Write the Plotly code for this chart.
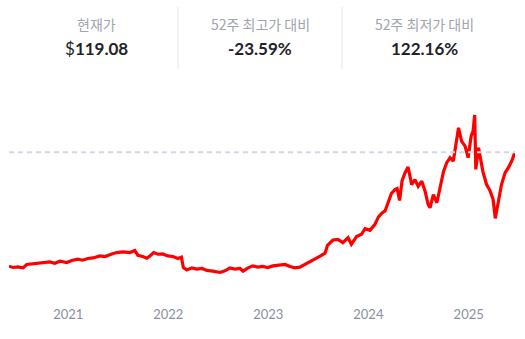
import plotly.graph_objects as go

# ---- data ----
dates = [
    "2020-05-30", "2020-06-13", "2020-07-01", "2020-07-20", "2020-08-03", "2020-08-25",
    "2020-09-20", "2020-10-08", "2020-10-26", "2020-11-13", "2020-12-02", "2020-12-27",
    "2021-01-14", "2021-02-05", "2021-02-23", "2021-03-14", "2021-04-01", "2021-04-27",
    "2021-05-15", "2021-06-09", "2021-06-27", "2021-07-20", "2021-08-14", "2021-09-01",
    "2021-09-12", "2021-09-30", "2021-10-15", "2021-10-26", "2021-11-09", "2021-11-24",
    "2021-12-12", "2021-12-30", "2022-01-18", "2022-02-05", "2022-02-18", "2022-02-25",
    "2022-03-10", "2022-03-28", "2022-04-16", "2022-05-04", "2022-05-22", "2022-06-13",
    "2022-07-09", "2022-07-27", "2022-08-14", "2022-09-01", "2022-09-20", "2022-10-01",
    "2022-10-19", "2022-11-06", "2022-11-24", "2022-12-12", "2022-12-30", "2023-01-18",
    "2023-02-12", "2023-03-03", "2023-03-21", "2023-04-08", "2023-04-26", "2023-05-15",
    "2023-06-02", "2023-06-20", "2023-07-09", "2023-07-27", "2023-08-05", "2023-08-25",
    "2023-09-12", "2023-09-30", "2023-10-19", "2023-10-31", "2023-11-19", "2023-12-07",
    "2023-12-20", "2024-01-07", "2024-01-25", "2024-02-07", "2024-02-20", "2024-03-02",
    "2024-03-13", "2024-03-25", "2024-04-07", "2024-04-15", "2024-04-24", "2024-05-03",
    "2024-05-14", "2024-05-25", "2024-06-07", "2024-06-19", "2024-07-01", "2024-07-14",
    "2024-07-26", "2024-08-06", "2024-08-13", "2024-08-25", "2024-09-07", "2024-09-19",
    "2024-10-01", "2024-10-13", "2024-10-25", "2024-11-06", "2024-11-18", "2024-11-25",
    "2024-12-06", "2024-12-19", "2024-12-30", "2025-01-10", "2025-01-17", "2025-01-23",
    "2025-01-27", "2025-02-06", "2025-02-22", "2025-03-07", "2025-03-20", "2025-03-31",
    "2025-04-08", "2025-04-18", "2025-05-01", "2025-05-14", "2025-05-26", "2025-06-07",
    "2025-06-19",
]
prices = [
    6.43, 5.15, 5.74, 4.76, 8.10, 8.69,
    9.38, 10.07, 10.66, 9.38, 11.34, 10.07,
    12.03, 13.31, 12.33, 14.00, 14.59, 16.55,
    15.96, 18.52, 19.90, 20.49, 19.90, 21.86,
    17.24, 15.96, 14.29, 16.55, 19.90, 18.22,
    18.52, 16.55, 15.96, 14.00, 15.28, 5.15,
    2.79, 4.76, 3.48, 4.17, 2.20, 1.51,
    0.23, 1.81, 4.76, 3.48, 4.17, 1.51,
    4.76, 6.72, 5.45, 6.13, 5.15, 6.72,
    7.41, 8.10, 6.13, 4.76, 5.45, 8.10,
    11.34, 14.00, 16.26, 19.21, 27.07, 32.28,
    32.97, 29.73, 34.64, 28.06, 35.63, 37.90,
    43.49, 41.82, 47.72, 55.09, 59.02, 60.98,
    68.36, 78.19, 82.12, 83.10, 71.31, 90.97,
    98.83, 104.44, 87.03, 91.95, 85.36, 90.28,
    80.45, 67.38, 64.13, 77.20, 69.05, 83.79,
    99.81, 108.66, 113.58, 110.33, 129.99, 143.07,
    129.99, 125.08, 113.58, 134.91, 139.82, 155.84,
    102.07, 123.41, 99.81, 87.33, 80.84, 72.58,
    53.60, 67.67, 87.33, 98.83, 103.75, 110.33,
    119.08,
]

year_ticks = ["2021-01-01", "2022-01-01", "2023-01-01", "2024-01-01", "2025-01-01"]
year_labels = ["2021", "2022", "2023", "2024", "2025"]

stat_labels = ["현재가", "52주 최고가 대비", "52주 최저가 대비"]
stat_values = ["$<b>119.08</b>", "<b>-23.59%</b>", "<b>122.16%</b>"]
current_price = 119.08

# ---- layout geometry (pixels) ----
W, H = 525, 339
L, R, T, B = 9, 10, 100, 36
pw, ph = W - L - R, H - T - B


def px(x):
    return (x - L) / pw


def py(y):
    return (H - B - y) / ph


fig = go.Figure()
fig.add_trace(go.Scatter(
    x=dates, y=prices, mode="lines",
    line=dict(color="#ff0000", width=3.2),
    hoverinfo="skip", showlegend=False,
))

fig.add_shape(type="line", xref="x", yref="y",
              x0=dates[0], x1=dates[-1], y0=current_price, y1=current_price,
              line=dict(color="#d3d6e4", width=2, dash="5px,4px"), layer="above")

col_centers = [96, 260, 424]
for cx, lab, val in zip(col_centers, stat_labels, stat_values):
    fig.add_annotation(x=px(cx), y=py(24), xref="paper", yref="paper",
                       text=lab, showarrow=False, xanchor="center", yanchor="middle",
                       font=dict(family="Noto Sans CJK KR", size=14, color="#a0a4ae"))
    fig.add_annotation(x=px(cx), y=py(49), xref="paper", yref="paper",
                       text=val, showarrow=False, xanchor="center", yanchor="middle",
                       font=dict(family="Lato", size=17, color="#1f2329"))

for sx in [178, 342]:
    fig.add_shape(type="line", xref="paper", yref="paper",
                  x0=px(sx), x1=px(sx), y0=py(7), y1=py(69),
                  line=dict(color="#e3e5ea", width=1))

fig.update_layout(
    width=W, height=H,
    margin=dict(l=L, r=R, t=T, b=B),
    paper_bgcolor="white", plot_bgcolor="white",
    xaxis=dict(type="date", range=[dates[0], dates[-1]],
               tickvals=year_ticks, ticktext=year_labels,
               showgrid=False, zeroline=False, showline=False, ticks="",
               ticklabelstandoff=2,
               tickfont=dict(family="Lato", size=13, color="#8a8fa3")),
    yaxis=dict(range=[-29.94, 170.59], visible=False, fixedrange=True),
)

fig.write_html("out.html")
